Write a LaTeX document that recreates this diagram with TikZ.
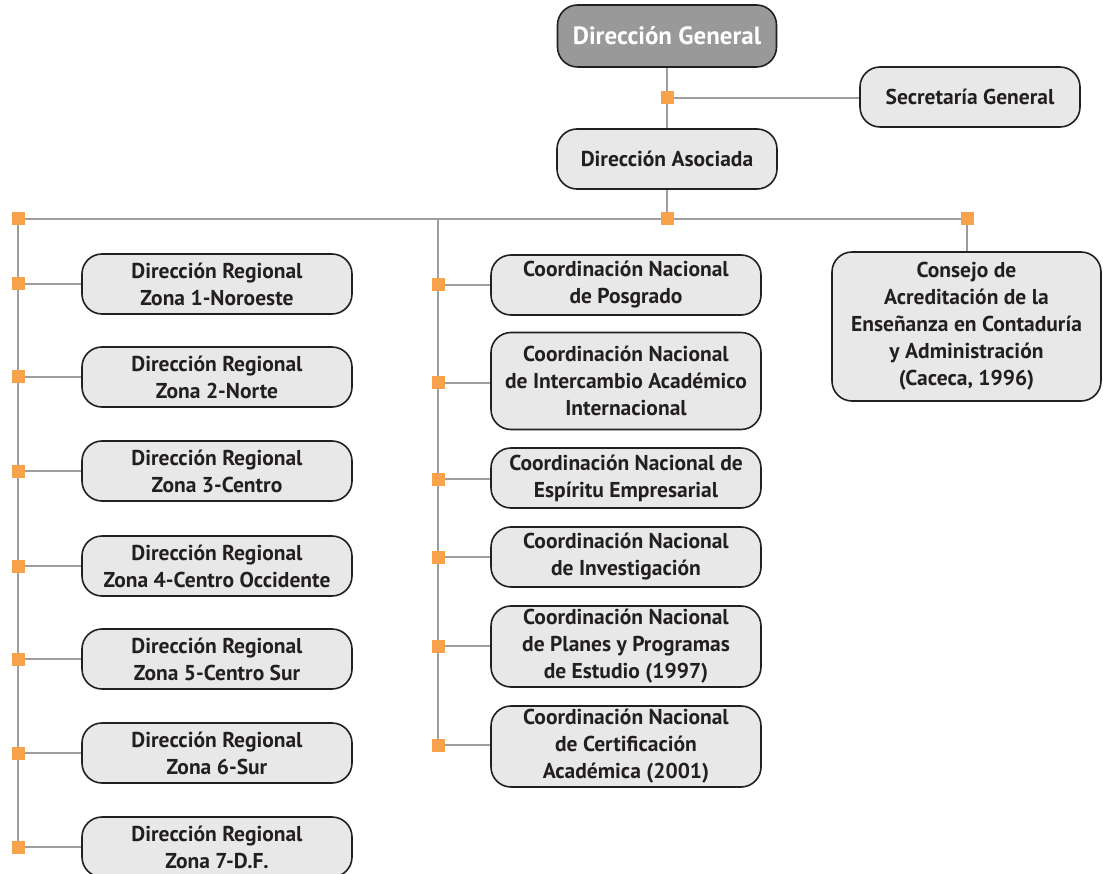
\documentclass[tikz,border=0pt]{standalone}
\usepackage{fontspec}
\setmainfont{PT Sans}
\usetikzlibrary{backgrounds}
\definecolor{boxfill}{HTML}{E8E8E8}
\definecolor{boxline}{HTML}{231F20}
\definecolor{topfill}{HTML}{999999}
\definecolor{conncol}{HTML}{9D9D9D}
\definecolor{sqcol}{HTML}{F9A24C}
\tikzset{
  orgbox/.style={rounded corners=20pt, draw=boxline, line width=1.6pt, fill=boxfill,
    text=boxline, font=\bfseries\fontsize{21.5}{27}\selectfont, align=center,
    minimum width=270pt, minimum height=60pt, inner sep=0pt},
  topbox/.style={orgbox, fill=topfill, text=white, font=\bfseries\fontsize{25}{27}\selectfont},
  sq/.style={fill=sqcol, draw=none, minimum size=13pt, inner sep=0pt},
  conn/.style={draw=conncol, line width=1.6pt},
}
\begin{document}
\begin{tikzpicture}[x=1pt,y=-1pt]
\useasboundingbox (0,0) rectangle (1103,874);
% top
\node[topbox, minimum width=219pt, minimum height=62pt] (dg) at (667,36) {Dirección General};
\node[orgbox, minimum width=220pt] (sg) at (970,97) {Secretaría General};
\node[orgbox, minimum width=220pt] (da) at (667,159) {Dirección Asociada};
\node[orgbox, minimum width=269pt, minimum height=149pt] (cac) at (966.5,326.5)
  {Consejo de\\Acreditación de la\\Enseñanza en Contaduría\\y Administración\\(Caceca, 1996)};
% left column
\node[orgbox] (l1) at (217,284) {Dirección Regional\\Zona 1-Noroeste};
\node[orgbox] (l2) at (217,377) {Dirección Regional\\Zona 2-Norte};
\node[orgbox] (l3) at (217,471) {Dirección Regional\\Zona 3-Centro};
\node[orgbox] (l4) at (217,566) {Dirección Regional\\Zona 4-Centro Occidente};
\node[orgbox] (l5) at (217,659) {Dirección Regional\\Zona 5-Centro Sur};
\node[orgbox] (l6) at (217,753) {Dirección Regional\\Zona 6-Sur};
\node[orgbox] (l7) at (217,847) {Dirección Regional\\Zona 7-D.F.};
% middle column
\node[orgbox] (m1) at (626,285) {Coordinación Nacional\\de Posgrado};
\node[orgbox, minimum height=97pt] (m2) at (626,381) {Coordinación Nacional\\de Intercambio Académico\\Internacional};
\node[orgbox] (m3) at (626,478) {Coordinación Nacional de\\Espíritu Empresarial};
\node[orgbox] (m4) at (626,557) {Coordinación Nacional\\de Investigación};
\node[orgbox, minimum height=81pt] (m5) at (626,646.5) {Coordinación Nacional\\de Planes y Programas\\de Estudio (1997)};
\node[orgbox, minimum height=81pt] (m6) at (626,746.5) {Coordinación Nacional\\de Certificación\\Académica (2001)};
% junctions
\node[sq] (jsg) at (667,98) {};
\node[sq] (jda) at (667,219) {};
\node[sq] (jl0) at (18,219) {};
\node[sq] (jr0) at (967,219) {};
\coordinate (jm0) at (438,219);
\foreach \i/\y in {1/284,2/377,3/471,4/566,5/659,6/753,7/847} {
  \node[sq] (jl\i) at (18,\y) {};
}
\foreach \i/\y in {1/285,2/383,3/479,4/557,5/646,6/745} {
  \node[sq] (jm\i) at (438,\y) {};
}
\begin{scope}[on background layer]
  \draw[conn] (dg.south) -- (da.north);
  \draw[conn] (jsg.center) -- (jsg.center -| sg.west);
  \draw[conn] (da.south) -- (jda.center);
  \draw[conn] (jl0.center) -- (jr0.center);
  \draw[conn] (jr0.center) -- (cac.north -| jr0.center);
  \draw[conn] (jl0.center) -- (jl7.center);
  \draw[conn] (jm0) -- (jm6.center);
  \foreach \i in {1,...,7} { \draw[conn] (jl\i.center) -- (jl\i.center -| l\i.west); }
  \foreach \i in {1,...,6} { \draw[conn] (jm\i.center) -- (jm\i.center -| m\i.west); }
\end{scope}
\end{tikzpicture}
\end{document}
